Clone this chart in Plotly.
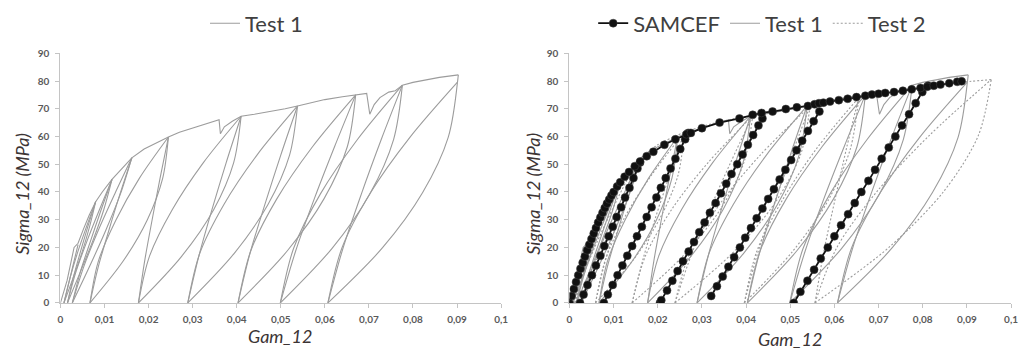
import plotly.graph_objects as go

# ---------------- data ----------------
GAM_TICKS = [0, 0.01, 0.02, 0.03, 0.04, 0.05, 0.06, 0.07, 0.08, 0.09, 0.1]
GAM_TICK_TEXT = ["0", "0,01", "0,02", "0,03", "0,04", "0,05", "0,06", "0,07", "0,08", "0,09", "0,1"]
SIG_TICKS = [0, 10, 20, 30, 40, 50, 60, 70, 80, 90]

# Test 1 : loading envelope
T1_ENV_GAM = [0, 0.0015, 0.0031, 0.0040, 0.0052, 0.0065, 0.0080, 0.0095, 0.0117, 0.0140, 0.0162,
              0.0190, 0.0220, 0.0245, 0.0270, 0.0300, 0.0330, 0.0360, 0.0363, 0.0372, 0.0390,
              0.0410, 0.0440, 0.0480, 0.0510, 0.0538, 0.0570, 0.0600, 0.0640, 0.0670, 0.0695,
              0.0702, 0.0712, 0.0725, 0.0745, 0.0760, 0.0776, 0.0800, 0.0830, 0.0860, 0.0903]
T1_ENV_SIG = [0, 8, 20, 21.5, 26.5, 31.5, 36.5, 40, 44.5, 48.5, 52.3,
              55.5, 58, 59.8, 61.5, 63, 64.5, 66, 61, 63.5, 65.5,
              67.3, 68, 69, 70, 71, 72.3, 73.3, 74.3, 75, 75.5,
              68, 71.5, 74, 76, 76.5, 78.5, 79.5, 80.5, 81.3, 82.2]

# Test 1 : unloading / reloading branches (segments separated by None)
T1_LOOP_GAM = [
    0.0008, 0.0016, 0.0024, 0.0032, 0.0040, None,
    0.0016, 0.0029, 0.0045, 0.0062, 0.0080, None,
    0.0027, 0.0045, 0.0068, 0.0092, 0.0117, None,
    0.0008, 0.0022, 0.0039, 0.0059, 0.0080, None,
    0.0008, 0.0029, 0.0049, 0.0066, 0.0080, None,
    0.0016, 0.0035, 0.0060, 0.0088, 0.0117, None,
    0.0016, 0.0045, 0.0073, 0.0098, 0.0117, None,
    0.0027, 0.0053, 0.0086, 0.0123, 0.0162, None,
    0.0027, 0.0066, 0.0103, 0.0136, 0.0162, None,
    0.0067, 0.0086, 0.0110, 0.0135, 0.0162, None,
    0.0067, 0.0086, 0.0126, 0.0179, 0.0245, None,
    0.0067, 0.0142, 0.0197, 0.0232, 0.0245, None,
    0.0177, 0.0191, 0.0208, 0.0226, 0.0245, None,
    0.0177, 0.0202, 0.0254, 0.0324, 0.0410, None,
    0.0177, 0.0275, 0.0348, 0.0393, 0.0410, None,
    0.0289, 0.0314, 0.0344, 0.0376, 0.0410, None,
    0.0289, 0.0316, 0.0371, 0.0446, 0.0538, None,
    0.0289, 0.0394, 0.0471, 0.0520, 0.0538, None,
    0.0403, 0.0430, 0.0464, 0.0500, 0.0538, None,
    0.0403, 0.0432, 0.0491, 0.0572, 0.0670, None,
    0.0403, 0.0515, 0.0598, 0.0651, 0.0670, None,
    0.0499, 0.0534, 0.0576, 0.0622, 0.0670, None,
    0.0499, 0.0529, 0.0590, 0.0674, 0.0776, None,
    0.0499, 0.0616, 0.0702, 0.0756, 0.0776, None,
    0.0607, 0.0641, 0.0683, 0.0728, 0.0776, None,
    0.0607, 0.0639, 0.0704, 0.0793, 0.0901, None,
    0.0607, 0.0731, 0.0822, 0.0880, 0.0901, None,
    0.0901, 0.0903]
T1_LOOP_SIG = [
    0, 5.2, 10.5, 15.8, 21.0, None,
    0, 9.1, 18.2, 27.4, 36.5, None,
    0, 11.1, 22.2, 33.4, 44.5, None,
    0, 9.1, 18.2, 27.4, 36.5, None,
    0, 9.1, 18.2, 27.4, 36.5, None,
    0, 11.1, 22.2, 33.4, 44.5, None,
    0, 11.1, 22.2, 33.4, 44.5, None,
    0, 13.1, 26.2, 39.2, 52.3, None,
    0, 13.1, 26.2, 39.2, 52.3, None,
    0, 13.1, 26.2, 39.2, 52.3, None,
    0, 15.0, 29.9, 44.9, 59.8, None,
    0, 15.0, 29.9, 44.9, 59.8, None,
    0, 15.0, 29.9, 44.9, 59.8, None,
    0, 16.8, 33.7, 50.5, 67.3, None,
    0, 16.8, 33.7, 50.5, 67.3, None,
    0, 16.8, 33.7, 50.5, 67.3, None,
    0, 17.8, 35.5, 53.3, 71.0, None,
    0, 17.8, 35.5, 53.3, 71.0, None,
    0, 17.8, 35.5, 53.3, 71.0, None,
    0, 18.8, 37.5, 56.3, 75.0, None,
    0, 18.8, 37.5, 56.3, 75.0, None,
    0, 18.8, 37.5, 56.3, 75.0, None,
    0, 19.6, 39.3, 58.9, 78.5, None,
    0, 19.6, 39.3, 58.9, 78.5, None,
    0, 19.6, 39.3, 58.9, 78.5, None,
    0, 19.9, 39.8, 59.7, 79.6, None,
    0, 19.9, 39.8, 59.7, 79.6, None,
    79.6, 82.2]

# Test 2 : loading envelope
T2_ENV_GAM = [0, 0.0015, 0.0030, 0.0045, 0.0060, 0.0085, 0.0110, 0.0150, 0.0200, 0.0260, 0.0320,
              0.0370, 0.0415, 0.0480, 0.0545, 0.0600, 0.0655, 0.0720, 0.0790, 0.0860, 0.0910, 0.0955]
T2_ENV_SIG = [0, 6, 13, 20, 26, 35, 43, 50.5, 57, 61.5, 64.5,
              66.3, 67.5, 69.3, 71, 72.5, 74, 75.8, 77.5, 79, 79.9, 80.5]

# Test 2 : unloading / reloading branches
T2_LOOP_GAM = [
    0.0012, 0.0027, 0.0045, 0.0064, 0.0085, None,
    0.0012, 0.0038, 0.0072, 0.0110, 0.0150, None,
    0.0012, 0.0052, 0.0090, 0.0124, 0.0150, None,
    0.0059, 0.0077, 0.0100, 0.0124, 0.0150, None,
    0.0059, 0.0081, 0.0125, 0.0186, 0.0260, None,
    0.0059, 0.0144, 0.0206, 0.0246, 0.0260, None,
    0.0142, 0.0166, 0.0195, 0.0227, 0.0260, None,
    0.0142, 0.0172, 0.0232, 0.0314, 0.0415, None,
    0.0142, 0.0257, 0.0342, 0.0395, 0.0415, None,
    0.0239, 0.0275, 0.0318, 0.0365, 0.0415, None,
    0.0239, 0.0272, 0.0340, 0.0432, 0.0545, None,
    0.0239, 0.0368, 0.0463, 0.0523, 0.0545, None,
    0.0396, 0.0426, 0.0463, 0.0503, 0.0545, None,
    0.0396, 0.0424, 0.0482, 0.0559, 0.0655, None,
    0.0396, 0.0505, 0.0586, 0.0636, 0.0655, None,
    0.0556, 0.0576, 0.0601, 0.0627, 0.0655, None,
    0.0556, 0.0606, 0.0697, 0.0815, 0.0955, None,
    0.0556, 0.0724, 0.0848, 0.0926, 0.0955]
T2_LOOP_SIG = [
    0, 8.8, 17.5, 26.3, 35.0, None,
    0, 12.6, 25.3, 37.9, 50.5, None,
    0, 12.6, 25.3, 37.9, 50.5, None,
    0, 12.6, 25.3, 37.9, 50.5, None,
    0, 15.4, 30.8, 46.1, 61.5, None,
    0, 15.4, 30.8, 46.1, 61.5, None,
    0, 15.4, 30.8, 46.1, 61.5, None,
    0, 16.9, 33.8, 50.6, 67.5, None,
    0, 16.9, 33.8, 50.6, 67.5, None,
    0, 16.9, 33.8, 50.6, 67.5, None,
    0, 17.8, 35.5, 53.3, 71.0, None,
    0, 17.8, 35.5, 53.3, 71.0, None,
    0, 17.8, 35.5, 53.3, 71.0, None,
    0, 18.5, 37.0, 55.5, 74.0, None,
    0, 18.5, 37.0, 55.5, 74.0, None,
    0, 18.5, 37.0, 55.5, 74.0, None,
    0, 20.1, 40.3, 60.4, 80.5, None,
    0, 20.1, 40.3, 60.4, 80.5]

# SAMCEF : loading envelope (simulation points)
SAM_ENV_GAM = [0, 0.0005, 0.0010, 0.0015, 0.0020, 0.0025, 0.0030, 0.0035, 0.0040, 0.0045, 0.0050,
               0.0055, 0.0060, 0.0065, 0.0070, 0.0075, 0.0080, 0.0085, 0.0090, 0.0095, 0.0100,
               0.0108, 0.0115, 0.0125, 0.0135, 0.0148, 0.0160, 0.0175, 0.0190, 0.0215, 0.0240,
               0.0265, 0.0275, 0.0300, 0.0340, 0.0385, 0.0415, 0.0435, 0.0460, 0.0490, 0.0515,
               0.0540, 0.0555, 0.0565, 0.0575, 0.0590, 0.0610, 0.0630, 0.0650, 0.0670, 0.0685,
               0.0700, 0.0715, 0.0735, 0.0755, 0.0775, 0.0795, 0.0810, 0.0825, 0.0840, 0.0860,
               0.0878, 0.0888]
SAM_ENV_SIG = [0, 2.5, 5, 7.5, 10, 12.3, 14.5, 16.7, 19, 21, 23,
               25, 27, 29, 30.8, 32.5, 34.2, 35.8, 37.3, 38.7, 40,
               42, 43.5, 45.5, 47.2, 49.3, 51, 52.9, 54.5, 57, 59,
               60.8, 61.3, 63, 65, 66.5, 67.8, 68.5, 69, 69.9, 70.5,
               71, 71.6, 72, 72.2, 72.6, 73.1, 73.6, 74.2, 74.7, 75.1,
               75.4, 75.7, 76, 76.5, 77, 77.5, 77.9, 78.3, 78.7, 79.2,
               79.7, 79.9]

# SAMCEF : unloading / reloading lines
SAM_UNL_GAM = [
    0.0024, 0.0032, 0.0041, 0.0051, 0.0060, 0.0070, 0.0079, 0.0089, 0.0098, 0.0107, 0.0117,
    0.0126, 0.0136, 0.0145, 0.0154, 0.0160, None,
    0.0078, 0.0087, 0.0098, 0.0109, 0.0120, 0.0131, 0.0142, 0.0153, 0.0164, 0.0175, 0.0186,
    0.0197, 0.0207, 0.0218, 0.0229, 0.0240, 0.0251, 0.0262, 0.0269, None,
    0.0205, 0.0208, 0.0221, 0.0233, 0.0245, 0.0257, 0.0270, 0.0282, 0.0294, 0.0306, 0.0318,
    0.0331, 0.0343, 0.0355, 0.0367, 0.0380, 0.0392, 0.0404, 0.0416, 0.0428, 0.0437, None,
    0.0321, 0.0334, 0.0347, 0.0360, 0.0373, 0.0386, 0.0398, 0.0411, 0.0424, 0.0437, 0.0450,
    0.0463, 0.0476, 0.0489, 0.0502, 0.0514, 0.0527, 0.0540, 0.0553, 0.0566, None,
    0.0508, 0.0523, 0.0539, 0.0554, 0.0569, 0.0585, 0.0600, 0.0615, 0.0631, 0.0646, 0.0661,
    0.0677, 0.0692, 0.0707, 0.0723, 0.0738, 0.0753, 0.0769, 0.0784, 0.0799, 0.0812]
SAM_UNL_SIG = [
    0, 3, 6.5, 10, 13.5, 17, 20.5, 24, 27.5, 31, 34.5,
    38, 41.5, 45, 48.5, 50.6, None,
    0, 3, 6.5, 10, 13.5, 17, 20.5, 24, 27.5, 31, 34.5,
    38, 41.5, 45, 48.5, 52, 55.5, 59, 61.3, None,
    0, 1, 4.5, 8, 11.5, 15, 18.5, 22, 25.5, 29, 32.5,
    36, 39.5, 43, 46.5, 50, 53.5, 57, 60.5, 64, 66.5, None,
    2.5, 6, 9.5, 13, 16.5, 20, 23.5, 27, 30.5, 34, 37.5,
    41, 44.5, 48, 51.5, 55, 58.5, 62, 65.5, 69, None,
    0, 4, 8, 12, 16, 20, 24, 28, 32, 36, 40,
    44, 48, 52, 56, 60, 64, 68, 72, 76, 78.3]

# ---------------- styles ----------------
GRAY = "#9c9c9c"
FONT = "Lato"
TXT = "#404040"
DOTS = "2px,2px"

fig = go.Figure()


def add_test1(xa, ya, leg):
    fig.add_trace(go.Scatter(x=T1_LOOP_GAM, y=T1_LOOP_SIG, xaxis=xa, yaxis=ya, mode="lines",
                             line=dict(color=GRAY, width=1.1, shape="spline", smoothing=0.9),
                             showlegend=False, legendgroup="t1" + xa, hoverinfo="skip"))
    fig.add_trace(go.Scatter(x=T1_ENV_GAM, y=T1_ENV_SIG, xaxis=xa, yaxis=ya, mode="lines",
                             name="Test 1", legend=leg, legendrank=2, legendgroup="t1" + xa,
                             line=dict(color=GRAY, width=1.1), showlegend=True))


# left panel
add_test1("x", "y", "legend")

# right panel
fig.add_trace(go.Scatter(x=T2_LOOP_GAM, y=T2_LOOP_SIG, xaxis="x2", yaxis="y2", mode="lines",
                         line=dict(color=GRAY, width=1.1, dash=DOTS, shape="spline", smoothing=0.9),
                         showlegend=False, legendgroup="t2", hoverinfo="skip"))
fig.add_trace(go.Scatter(x=T2_ENV_GAM, y=T2_ENV_SIG, xaxis="x2", yaxis="y2", mode="lines",
                         name="Test 2", legend="legend2", legendrank=3, legendgroup="t2",
                         line=dict(color=GRAY, width=1.1, dash=DOTS, shape="spline", smoothing=0.6)))
add_test1("x2", "y2", "legend2")
fig.add_trace(go.Scatter(x=SAM_UNL_GAM, y=SAM_UNL_SIG, xaxis="x2", yaxis="y2", mode="lines+markers",
                         line=dict(color="#111111", width=1.8),
                         marker=dict(color="#111111", size=8, line=dict(color="#444444", width=0.5)),
                         showlegend=False, legendgroup="sam"))
fig.add_trace(go.Scatter(x=SAM_ENV_GAM, y=SAM_ENV_SIG, xaxis="x2", yaxis="y2", mode="lines+markers",
                         name="SAMCEF", legend="legend2", legendrank=1, legendgroup="sam",
                         line=dict(color="#111111", width=1.8),
                         marker=dict(color="#111111", size=8, line=dict(color="#444444", width=0.5))))

W, H = 1026, 360
ydom = [1 - 307 / H, 1 - 48 / H]


def xaxis(dom, anchor):
    return dict(domain=dom, anchor=anchor, range=[0, 0.1], tickvals=GAM_TICKS, ticktext=GAM_TICK_TEXT,
                showgrid=False, zeroline=False, showline=True, linecolor="#c4c4c4", linewidth=1,
                ticks="outside", ticklen=4, tickcolor="#c4c4c4", ticklabelstandoff=3,
                tickfont=dict(family=FONT, size=10, color="#5a5a5a", weight="bold"), fixedrange=True)


def yaxis(anchor):
    return dict(domain=ydom, anchor=anchor, range=[0, 90], tickvals=SIG_TICKS,
                showgrid=False, zeroline=False, showline=True, linecolor="#c4c4c4", linewidth=1,
                ticks="outside", ticklen=4, tickcolor="#c4c4c4", ticklabelstandoff=4,
                tickfont=dict(family=FONT, size=10, color="#5a5a5a", weight="bold"), fixedrange=True)


leg_common = dict(orientation="h", yanchor="middle", xanchor="left", bgcolor="rgba(0,0,0,0)",
                  font=dict(family=FONT, size=22, color=TXT), itemwidth=30, borderwidth=0)

title_font = dict(family=FONT, size=18, color="#3c3434", style="italic")

fig.update_layout(
    width=W, height=H, margin=dict(l=0, r=0, t=0, b=0),
    paper_bgcolor="white", plot_bgcolor="white",
    xaxis=xaxis([58 / W, 503 / W], "y"),
    yaxis=yaxis("x"),
    xaxis2=xaxis([572 / W, 1018 / W], "y2"),
    yaxis2=yaxis("x2"),
    legend=dict(x=204 / W, y=1 - 17 / H, **leg_common),
    legend2=dict(x=596 / W, y=1 - 17 / H, **leg_common),
    annotations=[
        dict(text="Sigma_12 (MPa)", x=19 / W, y=1 - 194 / H, xref="paper", yref="paper",
             textangle=-90, showarrow=False, font=title_font, xanchor="center", yanchor="middle"),
        dict(text="Gam_12", x=280 / W, y=1 - 341 / H, xref="paper", yref="paper",
             showarrow=False, font=title_font, xanchor="center", yanchor="middle"),
        dict(text="Sigma_12 (MPa)", x=535 / W, y=1 - 194 / H, xref="paper", yref="paper",
             textangle=-90, showarrow=False, font=title_font, xanchor="center", yanchor="middle"),
        dict(text="Gam_12", x=795 / W, y=1 - 344 / H, xref="paper", yref="paper",
             showarrow=False, font=title_font, xanchor="center", yanchor="middle"),
    ],
)

fig.write_html("out.html")
